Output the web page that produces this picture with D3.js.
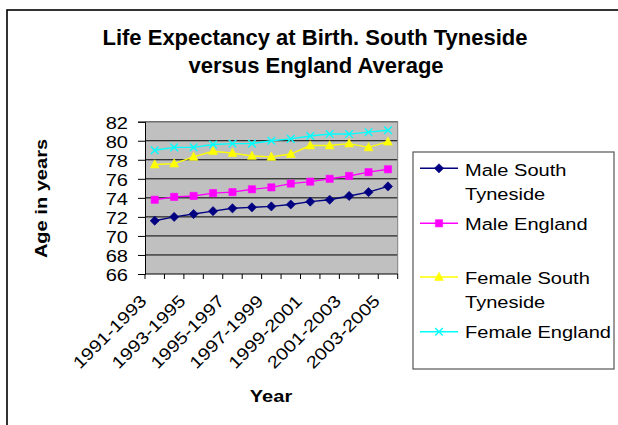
<!DOCTYPE html>
<html><head><meta charset="utf-8">
<script src="https://cdn.jsdelivr.net/npm/d3@7"></script>
<style>body{margin:0;background:#fff}svg{display:block;font-family:Arial,"Liberation Sans",sans-serif}</style>
</head><body><svg id="c" width="618" height="425"></svg>
<script>
const categories = ["1991-1993","1992-1994","1993-1995","1994-1996","1995-1997","1996-1998","1997-1999","1998-2000","1999-2001","2000-2002","2001-2003","2002-2004","2003-2005"];
const maleSouthTyneside = [71.6,72.0,72.3,72.6,72.9,73.0,73.1,73.3,73.6,73.8,74.2,74.6,75.2];
const maleEngland = [73.8,74.1,74.2,74.5,74.6,74.9,75.1,75.5,75.7,76.0,76.3,76.7,77.0];
const femaleSouthTyneside = [77.5,77.6,78.3,78.9,78.7,78.4,78.3,78.6,79.5,79.5,79.7,79.3,79.9];
const femaleEngland = [79.0,79.3,79.3,79.6,79.7,79.7,80.0,80.2,80.5,80.7,80.7,80.9,81.1];
const yTicks = [66,68,70,72,74,76,78,80,82];
const seriesNames = ["Male South Tyneside","Male England","Female South Tyneside","Female England"];

const series = [
  {name: seriesNames[0], values: maleSouthTyneside, color: "#000080", marker: "diamond", lines:["Male South","Tyneside"]},
  {name: seriesNames[1], values: maleEngland, color: "#FF00FF", marker: "square", lines:["Male England"]},
  {name: seriesNames[2], values: femaleSouthTyneside, color: "#FFFF00", marker: "triangle", lines:["Female South","Tyneside"]},
  {name: seriesNames[3], values: femaleEngland, color: "#00FFFF", marker: "x", lines:["Female England"]}
];

const svg = d3.select("#c");
const SX = 1.18; // horizontal widening of the reference's text
function txt(g, x, y, rot, size, weight, anchor, str) {
  return g.append("text")
    .attr("transform", `translate(${x},${y}) rotate(${rot}) scale(${SX},1)`)
    .attr("text-anchor", anchor).attr("font-size", size).attr("font-weight", weight)
    .attr("fill", "#000").text(str);
}

// outer border
svg.append("rect").attr("x",7).attr("y",10).attr("width",700).attr("height",500)
  .attr("fill","none").attr("stroke","#000").attr("stroke-width",1.6);

const L = 145, R = 397.7, T = 121.7, B = 274;
const x = d3.scaleBand().domain(categories).range([L, R]);
const y = d3.scaleLinear().domain([66, 82]).range([B, T]);
const cx = c => x(c) + x.bandwidth() / 2;

// plot background
svg.append("rect").attr("x",L).attr("y",T).attr("width",R-L).attr("height",B-T).attr("fill","#C0C0C0");
// gridlines
svg.append("g").selectAll("line").data(yTicks.slice(1)).join("line")
  .attr("x1",L).attr("x2",R).attr("y1",d=>y(d)).attr("y2",d=>y(d)).attr("stroke","#000").attr("stroke-width",1);
// plot border (gray)
svg.append("path").attr("d",`M${L},${T}H${R}V${B}`).attr("fill","none").attr("stroke","#808080").attr("stroke-width",1);

// y axis
const yAxis = svg.append("g").attr("transform",`translate(${L},0)`)
  .call(d3.axisLeft(y).tickValues(yTicks).tickSize(7).tickFormat(""));
yAxis.select(".domain").attr("stroke","#000");
yAxis.selectAll("line").attr("stroke","#000");
const yl = svg.append("g");
yTicks.forEach(t => txt(yl, 128, y(t) + 6.8, 0, 17, "normal", "end", d3.format("d")(t)));

// x axis: ticks at band boundaries
const xg = svg.append("g");
xg.append("line").attr("x1",L).attr("x2",R).attr("y1",B).attr("y2",B).attr("stroke","#000");
const bounds = categories.map(c => x(c)).concat([R]);
xg.selectAll("line.t").data(bounds).join("line").attr("class","t")
  .attr("x1",d=>d).attr("x2",d=>d).attr("y1",B).attr("y2",B+5).attr("stroke","#000");
categories.forEach((c, i) => {
  if (i % 2 === 0) txt(xg, cx(c) - 7, B + 28, -45, 17, "normal", "end", c);
});

// markers
function markerPath(m) {
  switch (m) {
    case "diamond": return "M0,-4.6L4.6,0L0,4.6L-4.6,0Z";
    case "square": return "M-3.6,-3.6H3.6V3.6H-3.6Z";
    case "triangle": return "M0,-4.8L4.4,3.4H-4.4Z";
    default: return "M-3.8,-3.8L3.8,3.8M3.8,-3.8L-3.8,3.8";
  }
}
const line = d3.line().x((d,i)=>cx(categories[i])).y(d=>y(d));
series.forEach(s => {
  svg.append("path").datum(s.values).attr("d",line).attr("fill","none").attr("stroke",s.color).attr("stroke-width",1.4);
  svg.append("g").selectAll("path").data(s.values).join("path")
    .attr("transform",(d,i)=>`translate(${cx(categories[i])},${y(d)})`)
    .attr("d", markerPath(s.marker))
    .attr("fill", s.marker==="x" ? "none" : s.color)
    .attr("stroke", s.color).attr("stroke-width", s.marker==="x" ? 1.4 : 0.6);
});

// title
const title = svg.append("text").attr("text-anchor","middle").attr("font-weight","bold").attr("font-size",22).attr("fill","#000");
title.append("tspan").attr("x",315).attr("y",45).text("Life Expectancy at Birth. South Tyneside");
title.append("tspan").attr("x",316).attr("y",73).text("versus England Average");

// axis titles
txt(svg, 47, 198.5, -90, 17, "bold", "middle", "Age in years");
txt(svg, 271, 401.7, 0, 17, "bold", "middle", "Year");

// legend
const lg = svg.append("g");
lg.append("rect").attr("x",413).attr("y",152).attr("width",201).attr("height",217)
  .attr("fill","#fff").attr("stroke","#555").attr("stroke-width",1.2);
const rowsY = [168.3, 223.3, 277, 331.7];
const baseY = [175.7, 230, 284, 337.5];
series.forEach((s, i) => {
  const cy = rowsY[i];
  lg.append("line").attr("x1",420).attr("x2",458).attr("y1",cy).attr("y2",cy).attr("stroke",s.color).attr("stroke-width",1.4);
  lg.append("path").attr("transform",`translate(439,${cy})`)
    .attr("d", markerPath(s.marker))
    .attr("fill", s.marker==="x" ? "none" : s.color).attr("stroke",s.color).attr("stroke-width", s.marker==="x" ? 1.4 : 0.6);
  s.lines.forEach((t, j) => txt(lg, 465, baseY[i] + j * 24, 0, 17, "normal", "start", t));
});
</script></body></html>
